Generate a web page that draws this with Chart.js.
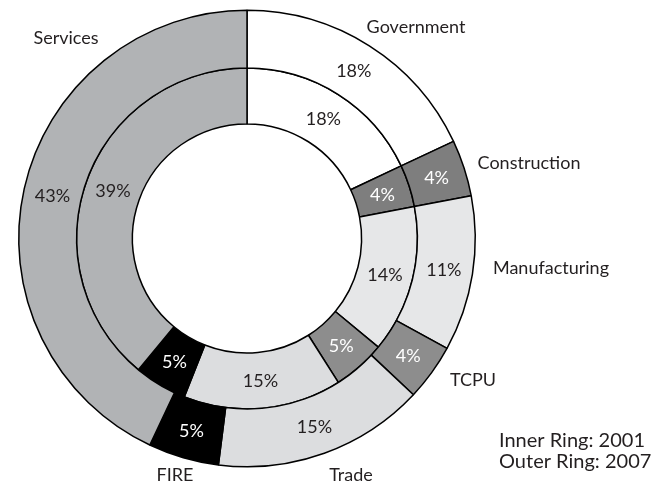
<!DOCTYPE html>
<html>
<head>
<meta charset="utf-8">
<script src="https://cdn.jsdelivr.net/npm/chart.js@4/dist/chart.umd.min.js"></script>
<style>
  html, body { margin: 0; padding: 0; background: #fff; }
  #wrap { width: 660px; height: 484px; position: relative; }
</style>
</head>
<body>
<div id="wrap"><canvas id="ringChart" width="660" height="484"></canvas></div>
<script>
// ── Data ───────────────────────────────────────────────────────────────────
const sectors = ['Government', 'Construction', 'Manufacturing', 'TCPU', 'Trade', 'FIRE', 'Services'];
const share2007 = [18, 4, 11, 4, 15, 5, 43];   // outer ring
const share2001 = [18, 4, 14, 5, 15, 5, 39];   // inner ring
const ringNotes = ['Inner Ring: 2001', 'Outer Ring: 2007'];

// ── Styles ─────────────────────────────────────────────────────────────────
const fills = ['#ffffff', '#7e7e7e', '#e6e7e8', '#8d8d8d', '#dcdddf', '#000000', '#b1b3b5'];
const darkFill = [false, true, false, true, false, true, false];
const inkColor = '#231f20';
const fontFam = 'Lato, "Open Sans", sans-serif';

// label offsets from the ring centre (px), same order as sectors
const nameOffsets = [
  [169, -211], [282, -75], [304, 30], [226, 142], [104, 237], [-72, 237], [-181, -200]
];

// ── Label plugin ───────────────────────────────────────────────────────────
const ringLabels = {
  id: 'ringLabels',
  afterDatasetsDraw(chart) {
    const ctx = chart.ctx;
    ctx.save();
    ctx.textAlign = 'center';
    ctx.textBaseline = 'middle';

    // percentages inside each slice
    ctx.font = `18px ${fontFam}`;
    chart.data.datasets.forEach((ds, di) => {
      const meta = chart.getDatasetMeta(di);
      meta.data.forEach((arc, i) => {
        const p = arc.tooltipPosition();
        ctx.fillStyle = darkFill[i] ? '#ffffff' : inkColor;
        ctx.fillText(ds.data[i] + '%', p.x, p.y + 1);
      });
    });

    // sector names round the outside
    const first = chart.getDatasetMeta(0).data[0];
    const cx = first.x, cy = first.y;
    ctx.font = `18px ${fontFam}`;
    ctx.fillStyle = inkColor;
    sectors.forEach((name, i) => {
      ctx.fillText(name, cx + nameOffsets[i][0], cy + nameOffsets[i][1]);
    });

    // ring key, bottom right
    ctx.font = `20px ${fontFam}`;
    ctx.textAlign = 'left';
    ctx.fillText(ringNotes[0], 499, 441);
    ctx.fillText(ringNotes[1], 499, 462);
    ctx.restore();
  }
};

// ── Chart ──────────────────────────────────────────────────────────────────
new Chart(document.getElementById('ringChart').getContext('2d'), {
  type: 'doughnut',
  data: {
    labels: sectors,
    datasets: [
      { label: '2007', data: share2007, backgroundColor: fills, borderColor: '#000', borderWidth: 1.5, weight: 58 },
      { label: '2001', data: share2001, backgroundColor: fills, borderColor: '#000', borderWidth: 1.5, weight: 56 }
    ]
  },
  options: {
    responsive: false,
    animation: false,
    cutout: '50.2%',
    layout: { padding: { left: 18, top: 9.5, right: 184, bottom: 16.5 } },
    plugins: {
      legend: { display: false },
      tooltip: { enabled: false }
    }
  },
  plugins: [ringLabels]
});
</script>
</body>
</html>
